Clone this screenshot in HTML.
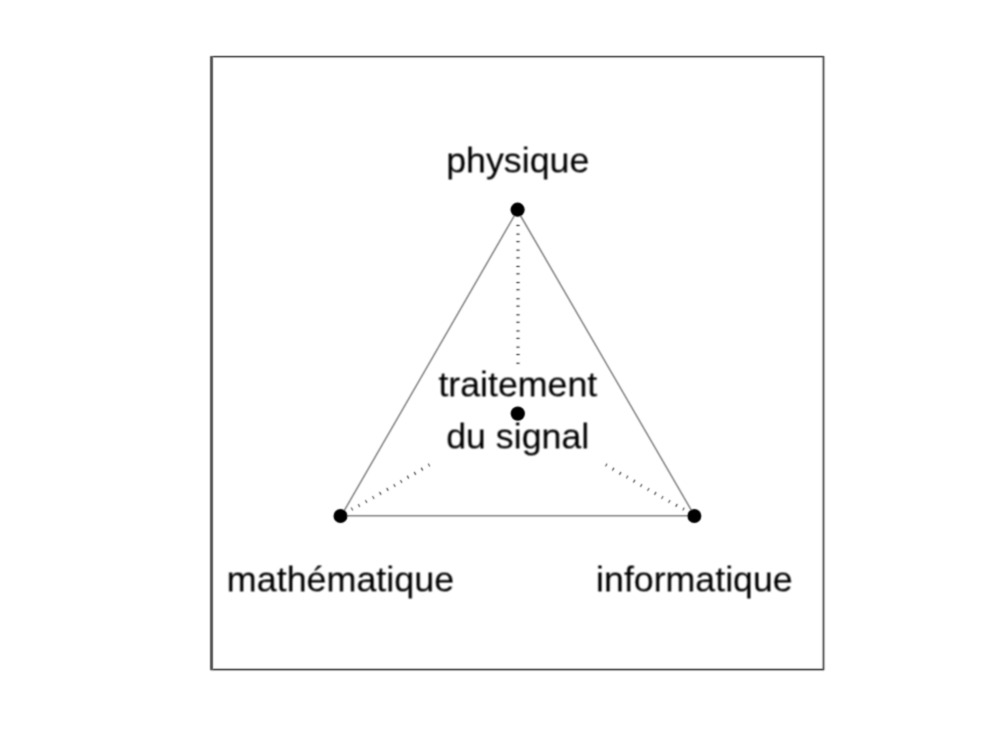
<!DOCTYPE html>
<html><head><meta charset="utf-8">
<style>
html,body{margin:0;padding:0;background:#fff;width:1000px;height:753px;overflow:hidden}
svg{position:absolute;left:0;top:0}
text{font-family:"Liberation Sans",sans-serif;font-size:36px;fill:#000;text-anchor:middle;stroke:#000;stroke-width:0.1px}
</style></head><body>
<svg width="1000" height="753" viewBox="0 0 1000 753">
<defs>
<filter id="fl" x="0" y="0" width="1000" height="753" filterUnits="userSpaceOnUse"><feConvolveMatrix order="3" kernelMatrix="1 3 1 3 9 3 1 3 1" divisor="25" edgeMode="none"/></filter>
<filter id="ft" x="0" y="0" width="1000" height="753" filterUnits="userSpaceOnUse"><feConvolveMatrix order="4" kernelMatrix="1 3 3 1 3 9 9 3 3 9 9 3 1 3 3 1" divisor="64" targetX="1" targetY="1" edgeMode="none"/></filter>
</defs>
<g filter="url(#fl)">
<g stroke="none">
<rect x="211.5" y="56.0" width="612" height="1.2" fill="#000"/>
<rect x="211.5" y="668.9" width="612" height="1.3" fill="#000"/>
<rect x="210.05" y="56.0" width="2.9" height="614.2" fill="#505050"/>
<rect x="822.7" y="56.0" width="1.6" height="614.2" fill="#303030"/>
</g>
<g stroke="#808080" stroke-width="1.5" fill="none">
<line x1="517.92" y1="209.5" x2="341.33" y2="515.65"/>
<line x1="516.94" y1="209.5" x2="694.48" y2="515.65"/>
<line x1="340.5" y1="515.65" x2="694.35" y2="515.65"/>
</g>
<g fill="#000">
<rect x="516.4" y="224.95" width="3.2" height="1.0"/>
<rect x="516.4" y="233.65" width="3.2" height="1.0"/>
<rect x="516.4" y="241.15" width="3.2" height="1.0"/>
<rect x="516.4" y="249.65" width="3.2" height="1.0"/>
<rect x="516.4" y="257.35" width="3.2" height="1.0"/>
<rect x="516.4" y="265.95" width="3.2" height="1.0"/>
<rect x="516.4" y="273.35" width="3.2" height="1.0"/>
<rect x="516.4" y="282.05" width="3.2" height="1.0"/>
<rect x="516.4" y="289.25" width="3.2" height="1.0"/>
<rect x="516.4" y="298.25" width="3.2" height="1.0"/>
<rect x="516.4" y="305.65" width="3.2" height="1.0"/>
<rect x="516.4" y="314.35" width="3.2" height="1.0"/>
<rect x="516.4" y="321.75" width="3.2" height="1.0"/>
<rect x="516.4" y="330.45" width="3.2" height="1.0"/>
<rect x="516.4" y="337.85" width="3.2" height="1.0"/>
<rect x="516.4" y="346.65" width="3.2" height="1.0"/>
<rect x="516.4" y="354.05" width="3.2" height="1.0"/>
<rect x="516.4" y="362.75" width="3.2" height="1.0"/>
<rect x="-1.6" y="-0.45" width="3.2" height="0.9" transform="translate(352.0 509.0) rotate(60)"/>
<rect x="-1.6" y="-0.45" width="3.2" height="0.9" transform="translate(359.0 505.5) rotate(60)"/>
<rect x="-1.6" y="-0.45" width="3.2" height="0.9" transform="translate(366.2 501.5) rotate(60)"/>
<rect x="-1.6" y="-0.45" width="3.2" height="0.9" transform="translate(373.3 497.5) rotate(60)"/>
<rect x="-1.6" y="-0.45" width="3.2" height="0.9" transform="translate(380.3 493.3) rotate(60)"/>
<rect x="-1.6" y="-0.45" width="3.2" height="0.9" transform="translate(387.5 489.3) rotate(60)"/>
<rect x="-1.6" y="-0.45" width="3.2" height="0.9" transform="translate(394.5 485.5) rotate(60)"/>
<rect x="-1.6" y="-0.45" width="3.2" height="0.9" transform="translate(401.2 481.5) rotate(60)"/>
<rect x="-1.6" y="-0.45" width="3.2" height="0.9" transform="translate(408.0 477.2) rotate(60)"/>
<rect x="-1.6" y="-0.45" width="3.2" height="0.9" transform="translate(415.0 473.3) rotate(60)"/>
<rect x="-1.6" y="-0.45" width="3.2" height="0.9" transform="translate(422.0 469.2) rotate(60)"/>
<rect x="-1.6" y="-0.45" width="3.2" height="0.9" transform="translate(429.0 465.0) rotate(60)"/>
<rect x="-1.6" y="-0.45" width="3.2" height="0.9" transform="translate(683.5 509.0) rotate(-60)"/>
<rect x="-1.6" y="-0.45" width="3.2" height="0.9" transform="translate(676.5 505.3) rotate(-60)"/>
<rect x="-1.6" y="-0.45" width="3.2" height="0.9" transform="translate(669.3 501.5) rotate(-60)"/>
<rect x="-1.6" y="-0.45" width="3.2" height="0.9" transform="translate(662.3 497.5) rotate(-60)"/>
<rect x="-1.6" y="-0.45" width="3.2" height="0.9" transform="translate(655.3 493.3) rotate(-60)"/>
<rect x="-1.6" y="-0.45" width="3.2" height="0.9" transform="translate(648.3 489.5) rotate(-60)"/>
<rect x="-1.6" y="-0.45" width="3.2" height="0.9" transform="translate(641.2 485.5) rotate(-60)"/>
<rect x="-1.6" y="-0.45" width="3.2" height="0.9" transform="translate(634.2 481.2) rotate(-60)"/>
<rect x="-1.6" y="-0.45" width="3.2" height="0.9" transform="translate(627.2 477.0) rotate(-60)"/>
<rect x="-1.6" y="-0.45" width="3.2" height="0.9" transform="translate(620.2 473.3) rotate(-60)"/>
<rect x="-1.6" y="-0.45" width="3.2" height="0.9" transform="translate(613.2 469.2) rotate(-60)"/>
<rect x="-1.6" y="-0.45" width="3.2" height="0.9" transform="translate(606.3 465.0) rotate(-60)"/>
</g>
<g fill="#000">
<circle cx="517.6" cy="209.65" r="7.1"/>
<circle cx="340.5" cy="516" r="7"/>
<circle cx="694.35" cy="516" r="7"/>
<circle cx="517.8" cy="413.6" r="7.15"/>
</g>
</g>
<g filter="url(#ft)">
<text transform="translate(518.26 172.9) scale(0.993 0.96)">physique</text>
<text transform="translate(518.36 396.8) scale(0.993 0.96)">traitement</text>
<text transform="translate(518.2 448.7) scale(0.993 0.96)">du signal</text>
<text transform="translate(341.0 592.1) scale(0.9968 0.96)">mathématique</text>
<text transform="translate(694.9 591.7) scale(0.993 0.96)">informatique</text>
</g>
</svg>
</body></html>
